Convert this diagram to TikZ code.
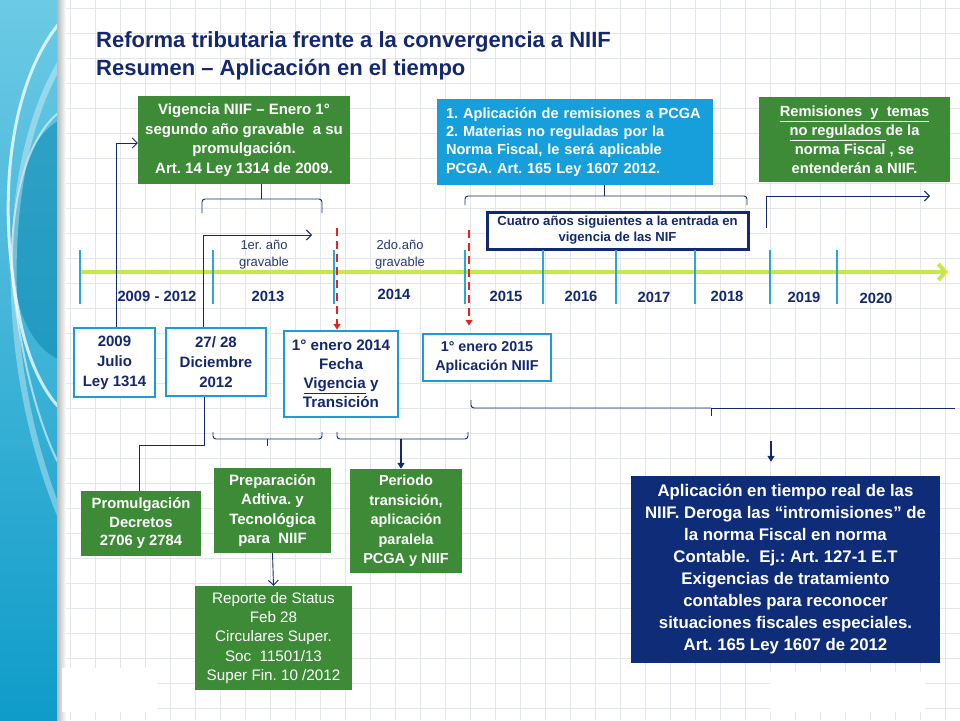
\documentclass[tikz,border=0pt]{standalone}
\usepackage{fontspec}
\setmainfont{Liberation Sans}
\usetikzlibrary{arrows.meta}
\frenchspacing
\definecolor{gridc}{HTML}{E2E6EA}
\definecolor{grn}{HTML}{3D8B37}
\definecolor{lblue}{HTML}{179FDC}
\definecolor{bord}{HTML}{1E9AD6}
\definecolor{navy}{HTML}{14286E}
\definecolor{navybox}{HTML}{0F2C78}
\definecolor{tline}{HTML}{C5E84A}
\definecolor{tickc}{HTML}{2AA7DA}
\definecolor{redd}{HTML}{E52420}
\definecolor{stripTop}{HTML}{6CCAE5}
\definecolor{stripBot}{HTML}{0F9CC9}
\definecolor{stripDark}{HTML}{0A86B0}
\begin{document}
\frenchspacing
\begin{tikzpicture}[x=1pt,y=-1pt,
  title/.style={text=navy,font=\fontsize{22}{24}\selectfont\bfseries,inner sep=0},
  gbox/.style={fill=grn,text=white,align=center,inner sep=0,font=\fontsize{15}{19.5}\selectfont\bfseries},
  wbox/.style={fill=white,draw=bord,line width=2.5pt,text=navy,align=center,inner sep=0,font=\fontsize{15}{20}\selectfont\bfseries},
  yr/.style={text=navy,font=\fontsize{14.8}{16}\selectfont\bfseries,inner sep=0},
  grav/.style={text=navy!80!gray,align=center,font=\fontsize{13}{17}\selectfont,inner sep=0},
  conn/.style={draw=navy,line width=0.9pt},
  oarr/.style={conn,-{Straight Barb[length=5pt,width=10pt]}},
  tarr/.style={draw=navy,line width=2pt,-{Triangle[length=6pt,width=7pt]}},
  rarr/.style={draw=redd,line width=2pt,dash pattern=on 8pt off 5pt,-{Triangle[length=6pt,width=7pt]}},
  tickm/.style={draw=tickc,line width=2.5pt}
]
\useasboundingbox (0,0) rectangle (960,720);
\fill[white] (0,0) rectangle (960,720);
% grid
\foreach \x in {70,95,...,955} \draw[gridc,line width=0.8pt] (\x,0) -- (\x,720);
\foreach \y in {8,33,...,715} \draw[gridc,line width=0.8pt] (62,\y) -- (960,\y);
% left strip
\shade[top color=stripTop,bottom color=stripBot] (0,0) rectangle (60,720);
\begin{scope}
\clip (0,0) rectangle (60,720);
\fill[stripDark,opacity=0.55] (60,120) .. controls (0,150) and (-10,330) .. (60,360) -- cycle;
\draw[white,opacity=0.75,line width=3pt] (62,20) .. controls (10,80) and (-5,200) .. (20,320) .. controls (30,370) and (50,400) .. (62,410);
\draw[white,opacity=0.55,line width=2pt] (62,110) .. controls (20,140) and (5,230) .. (15,300) .. controls (25,380) and (45,440) .. (62,470);
\draw[white,opacity=0.35,line width=6pt] (62,60) .. controls (0,160) and (-5,360) .. (62,520);
\end{scope}
\shade[left color=gray!55,right color=white] (57,0) rectangle (66,720);
% white blanks
\fill[white] (62,668) rectangle (158,712);
\fill[white] (770,672) rectangle (925,712);
% title
\node[title,anchor=west] (t1) at (96,42) {Reforma tributaria frente a la convergencia a NIIF};
\node[title,anchor=west] (t2) at (96,70) {Resumen – Aplicación en el tiempo};
% top boxes
\node[gbox,minimum width=212pt,minimum height=88pt] (g1) at (244,140)
  {Vigencia NIIF – Enero 1°\\segundo año gravable \ a su\\promulgación.\\Art. 14 Ley 1314 de 2009.};
\node[fill=lblue,text=white,inner sep=0,minimum width=276pt,minimum height=86pt,
  text width=258pt,align=left,font=\fontsize{14.6}{18.3}\selectfont\bfseries] (bb) at (575,142)
  {1. Aplicación de remisiones a PCGA\\2. Materias no reguladas por la\\Norma Fiscal, le será aplicable\\PCGA. Art. 165 Ley 1607 2012.};
\node[gbox,minimum width=191pt,minimum height=85pt,font=\fontsize{14.7}{19}\selectfont\bfseries] (g2) at (854.5,139.5)
  {\underline{Remisiones \ y \ temas}\\\underline{no regulados }de la\\norma Fiscal , se\\entenderán a NIIF.};
\node[fill=white,draw=navy,line width=3pt,text=navy,align=center,inner sep=0,minimum width=261pt,minimum height=37pt,
  font=\fontsize{13.1}{16}\selectfont\bfseries] (cu) at (617.5,230.5)
  {Cuatro años siguientes a la entrada en\\vigencia de las NIF};
% upper braces
\coordinate (b1m) at (261,199);
\draw[conn,rounded corners=3pt] (202,213) |- (b1m);
\draw[conn,rounded corners=3pt] (322,213) |- (b1m);
\draw[conn] (b1m) -- (b1m |- g1.south);
\coordinate (b2m) at (604,196);
\draw[conn,rounded corners=3pt] (465,205) |- (b2m);
\draw[conn,rounded corners=3pt] (747,205) |- (b2m);
\draw[conn] (b2m) -- (b2m |- bb.south);
\coordinate (c19) at (766,228);
\coordinate (c19e) at (930,196);
\draw[oarr] (c19) |- (c19e);
% timeline
\coordinate (tl0) at (80,272);
\coordinate (tl1) at (948,272);
\draw[draw=tline,line width=4pt,-{Straight Barb[length=7pt,width=16pt]}] (tl0) -- (tl1);
\foreach \x in {80,213,334,465,543,616,695,770,837} \draw[tickm] (\x,250) -- (\x,304);
\node[yr] (y0) at (157,296) {2009 - 2012};
\node[yr] (y13) at (268,296) {2013};
\node[yr] (y14) at (394,294) {2014};
\node[yr] (y15) at (506,296) {2015};
\node[yr] (y16) at (581,296) {2016};
\node[yr] (y17) at (654,297) {2017};
\node[yr] (y18) at (727,296) {2018};
\node[yr] (y19) at (804,297) {2019};
\node[yr] (y20) at (876,298) {2020};
\node[grav] (gr1) at (264,255) {1er. año\\gravable};
\node[grav] (gr2) at (400,255) {2do.año\\gravable};
% date boxes
\node[wbox,minimum width=81pt,minimum height=69pt] (d09) at (114.5,362.5) {2009\\Julio\\Ley 1314};
\node[wbox,minimum width=100pt,minimum height=68pt] (d12) at (216,362) {27/ 28\\Diciembre\\2012};
\node[wbox,minimum width=114pt,minimum height=86pt,font=\fontsize{15.2}{19}\selectfont\bfseries] (d14) at (341,374)
  {1° enero 2014\\Fecha\\\underline{Vigencia} y\\Transición};
\node[wbox,minimum width=128pt,minimum height=47pt,font=\fontsize{14.3}{19}\selectfont\bfseries] (d15) at (487,357.5)
  {1° enero 2015\\Aplicación NIIF};
% red arrows
\coordinate (r1) at (337,228);
\coordinate (r2) at (469,230);
\draw[rarr] (r1) -- (r1 |- d14.north);
\draw[rarr,shorten >=7pt] (r2) -- (r2 |- d15.north);
% arrows to top
\draw[oarr] ([xshift=1.5pt]d09.north) |- ([yshift=-3pt]g1.west);
\coordinate (c13e) at (312,235);
\draw[oarr] ([xshift=-13pt]d12.north) |- (c13e);
% lower boxes
\node[gbox,minimum width=120pt,minimum height=65pt,font=\fontsize{14.8}{18.5}\selectfont\bfseries] (pr) at (141,523.5)
  {Promulgación\\Decretos\\2706 y 2784};
\node[gbox,minimum width=117pt,minimum height=85pt] (pa) at (272.5,510.5)
  {Preparación\\Adtiva. y\\Tecnológica\\para \ NIIF};
\node[gbox,minimum width=112pt,minimum height=104pt,font=\fontsize{14.5}{19.5}\selectfont\bfseries] (pe) at (406,521)
  {Periodo\\transición,\\aplicación\\paralela\\PCGA y NIIF};
\node[gbox,minimum width=157pt,minimum height=104pt,font=\fontsize{15.2}{19.3}\selectfont] (rp) at (273.5,638)
  {Reporte de Status\\Feb 28\\Circulares Super.\\Soc \ 11501/13\\Super Fin. 10 /2012};
\node[fill=navybox,text=white,align=center,inner sep=0,minimum width=309pt,minimum height=187pt,
  font=\fontsize{16.8}{22}\selectfont\bfseries] (nv) at (785.5,569.5)
  {Aplicación en tiempo real de las\\NIIF. Deroga las “intromisiones” de\\la norma Fiscal en norma\\Contable. \ Ej.: Art. 127-1 E.T\\Exigencias de tratamiento\\contables para reconocer\\situaciones fiscales especiales.\\Art. 165 Ley 1607 de 2012};
% lower connectors
\draw[conn] ([xshift=-12pt]d12.south) -- ++(0,48) -| ([xshift=-2pt]pr.north);
\coordinate (l1m) at (267,439);
\draw[conn,rounded corners=3pt] (213,432) |- (l1m);
\draw[conn,rounded corners=3pt] (322,432) |- (l1m);
\draw[conn] (l1m) -- ++(0,7);
\coordinate (l2m) at (401,439);
\draw[conn,rounded corners=3pt] (337,432) |- (l2m);
\draw[conn,rounded corners=3pt] (468,432) |- (l2m);
\draw[tarr] (l2m) -- (l2m |- pe.north);
\coordinate (l3m) at (711,408);
\coordinate (l3e) at (955,408);
\draw[conn,rounded corners=3pt] (471,400) |- (l3m);
\draw[conn] (l3m) -- (l3e);
\draw[conn] (l3m) -- ++(0,8);
\coordinate (d1) at (771,441);
\draw[tarr,shorten >=14pt] (d1) -- (d1 |- nv.north);
\draw[oarr] (pa.south) -- (rp.north);
\end{tikzpicture}
\end{document}
